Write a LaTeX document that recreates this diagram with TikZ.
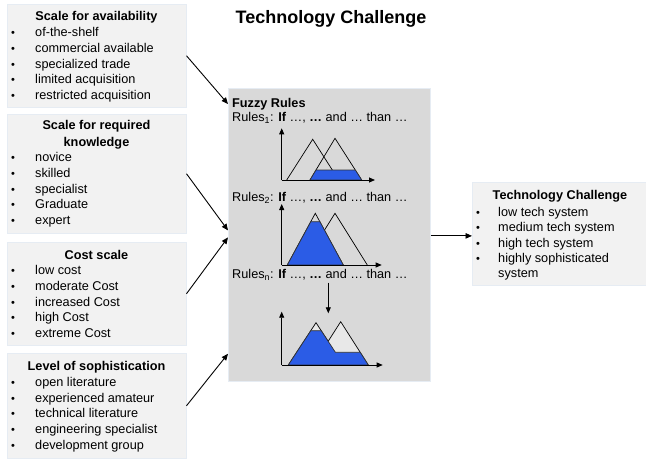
\documentclass[tikz,border=0pt]{standalone}
\usepackage{fontspec}
\setmainfont{Liberation Sans}
\usetikzlibrary{arrows.meta,shadows}
\definecolor{boxgray}{HTML}{F2F2F2}
\definecolor{midgray}{HTML}{D9D9D9}
\definecolor{edgeblue}{HTML}{E6ECF3}
\definecolor{shadowc}{HTML}{DDE3EB}
\definecolor{fuzzblue}{RGB}{43,92,230}
\newcommand\fs{\fontsize{12.7}{15}\selectfont}
\tikzset{
  box/.style={draw=edgeblue, line width=0.5pt, fill=boxgray, anchor=north west, inner sep=0pt,
    drop shadow={shadow xshift=1.2pt, shadow yshift=-1.2pt, fill=shadowc, opacity=1}},
  centerbox/.style={draw=edgeblue, line width=0.8pt, fill=midgray, anchor=north west, inner sep=0pt},
  txt/.style={anchor=base west, inner sep=0pt, font=\fs},
  bul/.style={anchor=base, inner sep=0pt, font=\fontsize{11}{13}\selectfont},
  head/.style={anchor=base, inner sep=0pt, font=\fs\bfseries},
  arr/.style={-{Triangle[length=6.5pt,width=5.5pt]}, line width=0.9pt},
  ax/.style={-{Triangle[length=6pt,width=5pt]}, line width=0.8pt},
  tri/.style={line width=0.7pt},
  blu/.style={fill=fuzzblue, draw=black!80, line width=0.7pt},
}
\newcommand\itemlist[5]{%
  \foreach \t [count=\i] in {#5} {
    \node[bul] (#1b\i) at (#2, {#4+15.8*(\i-1)}) {•};
    \node[txt] (#1t\i) at (#3, {#4+15.8*(\i-1)}) {\t};
  }}
\begin{document}
\begin{tikzpicture}[x=1pt,y=-1pt]
\useasboundingbox (0,0) rectangle (646,460);
% title
\node[inner sep=0pt, font=\fontsize{18}{20}\selectfont\bfseries] (title) at (331,19) {Technology Challenge};
% left boxes
\node[box, minimum width=179pt, minimum height=103pt] (b1) at (7,4) {};
\node[box, minimum width=179pt, minimum height=119pt] (b2) at (7,114) {};
\node[box, minimum width=179pt, minimum height=103pt] (b3) at (7,242) {};
\node[box, minimum width=179pt, minimum height=105pt] (b4) at (7,353) {};
% central box
\node[centerbox, minimum width=202pt, minimum height=293pt] (fz) at (228,88) {};
% right box
\node[box, minimum width=174pt, minimum height=103pt] (rb) at (472,182) {};

% box 1
\node[head] (h1) at (96.5,20.5) {Scale for availability};
\itemlist{a}{13}{35}{36.5}{of-the-shelf,commercial available,specialized trade,limited acquisition,restricted acquisition}
% box 2
\node[head] (h2a) at (96.5,129.5) {Scale for required};
\node[head] (h2b) at (96.5,146.5) {knowledge};
\itemlist{k}{13}{35}{161.5}{novice,skilled,specialist,Graduate,expert}
% box 3
\node[head] (h3) at (96.5,259.5) {Cost scale};
\itemlist{c}{13}{35}{274.5}{low cost,moderate Cost,increased Cost,high Cost,extreme Cost}
% box 4
\node[head] (h4) at (96.5,370.5) {Level of sophistication};
\itemlist{s}{13}{35}{386.2}{open literature,experienced amateur,technical literature,engineering specialist,development group}
% right box
\node[head] (h5) at (560,199.5) {Technology Challenge};
\foreach \t [count=\i] in {low tech system,medium tech system,high tech system,highly sophisticated} {
  \node[bul] (rbb\i) at (478, {216.8+15.1*(\i-1)}) {•};
  \node[txt] (rbt\i) at (498, {216.8+15.1*(\i-1)}) {\t};
}
\node[txt] (rbt5) at (498, 277.2) {system};

% central texts
\node[txt, font=\fs\bfseries] (fr) at (232,107.8) {Fuzzy Rules};
\node[txt] (r1) at (232,121.5) {Rules\textsubscript{1}: \textbf{If} …, \textbf{…} and … than …};
\node[txt] (r2) at (232,201) {Rules\textsubscript{2}: \textbf{If} …, \textbf{…} and … than …};
\node[txt] (rn) at (232,278.5) {Rules\textsubscript{n}: \textbf{If} …, \textbf{…} and … than …};

% chart 1
\draw[tri] (286.7,180) -- (312.7,139.3) -- (338.7,180);
\draw[tri] (310,180) -- (335,138.3) -- (361.7,180);
\draw[blu] (310,180) -- (316,170) -- (355.3,170) -- (361.7,180) -- cycle;
\draw[ax] (281.7,180) -- (281.7,128.3);
\draw[ax] (281.7,180) -- (375,180);
% chart 2
\draw[tri] (287.3,265) -- (315.3,213.3) -- (343.3,265);
\draw[tri] (302.7,265) -- (335,213.3) -- (367.3,265);
\draw[blu] (287.3,265) -- (310.8,221.7) -- (319.9,221.7) -- (343.3,265) -- cycle;
\draw[ax] (281.7,265) -- (281.7,204);
\draw[ax] (281.7,265) -- (381.7,265);
% chart 3
\draw[tri, fill=white!40!midgray] (288.3,365) -- (316,322.7) -- (343.7,365) -- cycle;
\draw[tri, fill=white!40!midgray] (313,365) -- (340.7,321.7) -- (368.3,365) -- cycle;
\draw[blu] (288.3,365) -- (310.8,330.7) -- (321.2,330.7) -- (335.4,352.3) -- (360.2,352.3) -- (368.3,365) -- cycle;
\draw[ax] (281.7,365) -- (281.7,311.7);
\draw[ax] (281.7,365) -- (382.7,365);
\coordinate (c3top) at (328.3,313.3);
\draw[ax] (rn.south -| c3top) ++(0,2) -- (c3top);

% connectors
\draw[arr] (b1.east) -- ([yshift=-16pt]fz.north west);
\draw[arr] (b2.east) -- ([yshift=4.5pt]fz.west);
\draw[arr] (b3.east) -- ([yshift=-2.5pt]fz.west);
\draw[arr] (b4.east) -- ([yshift=28pt]fz.south west);
\draw[arr] ([yshift=-1pt]fz.east) -- ([yshift=-1pt]fz.east -| rb.west);
\end{tikzpicture}
\end{document}
